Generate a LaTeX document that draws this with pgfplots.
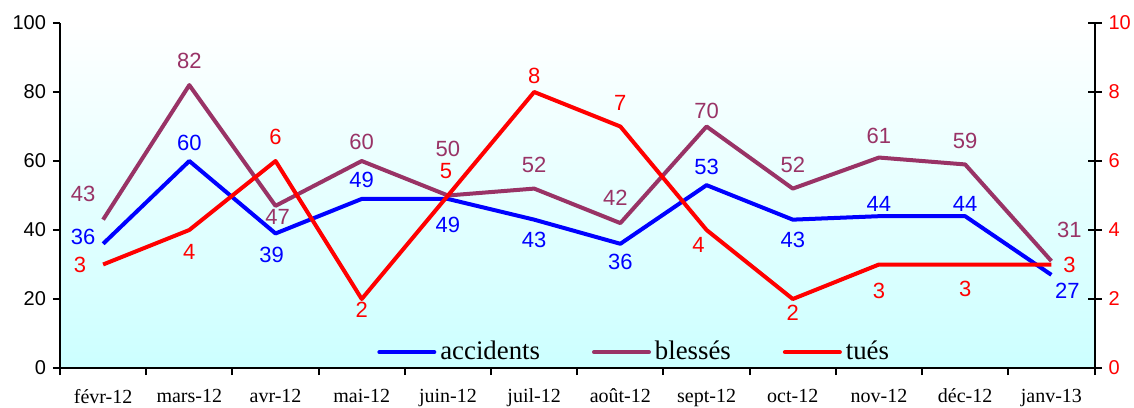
\documentclass[border=0pt]{standalone}
\usepackage{fontspec}
\setmainfont{Liberation Serif}
\newfontfamily\arial{Liberation Sans}
\usepackage{pgfplots}
\pgfplotsset{compat=1.18}
\definecolor{bless}{HTML}{993366}
\definecolor{bgcyan}{RGB}{204,255,255}
\begin{document}
\begin{tikzpicture}
\pgfplotsset{
  common/.style={
    scale only axis, width=517.25bp, height=172.5bp,
    xmin=-0.5, xmax=11.5,
    axis line style={line width=1bp, black},
    tick style={line width=1bp, black},
    /pgf/number format/assume math mode=true,
    yticklabel style={font=\arial\fontsize{10bp}{12bp}\selectfont},
    every axis plot/.append style={line width=2bp, line join=round, mark=none},
    visualization depends on={\thisrow{dx} \as \dx},
    visualization depends on={\thisrow{dy} \as \dy},
    nodes near coords,
    point meta=y,
    every node near coord/.append style={anchor=center, xshift=\dx bp, yshift=\dy bp, inner sep=0pt, font=\arial\fontsize{11bp}{13bp}\selectfont},
    clip=false,
  }
}
\begin{axis}[common, name=main,
  ymin=0, ymax=100, ytick={0,20,...,100},
  axis x line*=bottom, axis y line*=left,
  tick align=outside, major tick length=3.5bp,
  xtick={-0.5,0.5,1.5,2.5,3.5,4.5,5.5,6.5,7.5,8.5,9.5,10.5,11.5},
  x tick label as interval,
  xticklabels={févr-12,mars-12,avr-12,mai-12,juin-12,juil-12,août-12,sept-12,oct-12,nov-12,déc-12,janv-13},
  xticklabel style={font=\fontsize{10bp}{12bp}\selectfont, yshift=-3.5bp},
  axis background/.style={shade, top color=white, bottom color=bgcyan},
  legend style={at={(0.556,0.046)}, anchor=center, draw=none, fill=none,
    font=\fontsize{13.4bp}{15bp}\selectfont, inner sep=0pt,
    /tikz/every even column/.append style={column sep=24bp}},
  legend columns=3,
  legend image code/.code={\draw[#1, line cap=round] (0bp,0bp) -- (27.5bp,0bp);},
]
\addplot[blue, every node near coord/.append style={text=blue}] table {
x y dx dy
0 36 -10 3.5
1 60 0 9
2 39 -2 -10.5
3 49 0 9.5
4 49 0 -13
5 43 0 -10
6 36 0 -9
7 53 0 9
8 43 0 -10
9 44 0 6
10 44 0 6
11 27 8 -8
};
\addlegendentry{accidents}
\addplot[bless, every node near coord/.append style={text=bless}] table {
x y dx dy
0 43 -10 13
1 82 0 12
2 47 1 -5.5
3 60 0 9.5
4 50 0 23.5
5 52 0 12
6 42 -2.5 12.5
7 70 0 8
8 52 0 12
9 61 0 11
10 59 0 12
11 31 9 15.5
};
\addlegendentry{blessés}
\addlegendimage{red, line width=2bp}
\addlegendentry{tués}
\end{axis}
\begin{axis}[common,
  ymin=0, ymax=10, ytick={0,2,...,10},
  axis x line=none, axis y line*=right,
  tick align=center, major tick length=7bp,
  yticklabel style={text=red},
]
\addplot[red, every node near coord/.append style={text=red}] table {
x y dx dy
0 3 -11.5 0
1 4 0 -11
2 6 0 12
3 2 0 -5.5
4 5 -1 12
5 8 0 8
6 7 0 12
7 4 -4 -7.5
8 2 0 -7
9 3 0 -13
10 3 0 -12
11 3 9 0
};
\end{axis}
\pgfresetboundingbox
\path ([shift={(-30bp,-20bp)}]main.south west) rectangle ([shift={(19.75bp,11.5bp)}]main.north east);
\end{tikzpicture}
\end{document}
